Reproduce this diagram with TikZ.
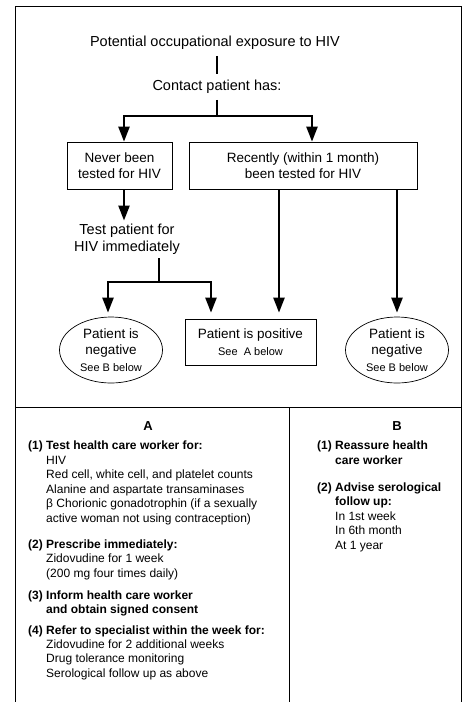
\documentclass[tikz,border=0pt]{standalone}
\usepackage{fontspec}
\setmainfont{Liberation Sans}
\usetikzlibrary{arrows.meta,shapes.geometric}

\begin{document}
\begin{tikzpicture}[x=1pt, y=-1pt]
  \tikzstyle{plain}=[inner sep=6pt, align=center, font=\fontsize{14.5}{17}\selectfont]
  \tikzstyle{box}=[rectangle, draw, line width=0.7pt, inner sep=0pt, align=center,
                   font=\fontsize{13.5}{16}\selectfont]
  \tikzstyle{oval}=[ellipse, draw, line width=0.7pt, inner sep=0pt, align=center,
                    minimum width=103pt, minimum height=66pt, font=\fontsize{13.5}{16}\selectfont]
  \tikzstyle{link}=[line width=2.4pt]
  \tikzstyle{arrow}=[link, -{Triangle[width=11pt,length=15pt]}]
  \tikzstyle{head}=[anchor=base, inner sep=0pt, font=\fontsize{13}{15}\selectfont\bfseries]
  \tikzstyle{item}=[anchor=base west, inner sep=0pt, font=\fontsize{12}{14}\selectfont\bfseries]
  \tikzstyle{sub}=[anchor=base west, inner sep=0pt, font=\fontsize{12}{14}\selectfont]

  \useasboundingbox (0,0) rectangle (466,702);

  % Frame
  \draw[line width=0.9pt] (15,702) -- (15,6) -- (461,6) -- (461,702);
  \draw[line width=0.9pt] (15,407) -- (461,407);
  \draw[line width=0.9pt] (289,407) -- (289,702);

  % Flow chart
  \node[plain] (exposure) at (215,43) {Potential occupational exposure to HIV};
  \node[plain] (contact) at (217,87) {Contact patient has:};
  \coordinate (split1) at (217,116);
  \node[box, minimum width=105pt, minimum height=47pt] (never) at (119.5,165.5)
    {Never been\\tested for HIV};
  \node[box, minimum width=228pt, minimum height=47pt] (recent) at (303,165.5)
    {Recently (within 1 month)\\been tested for HIV};
  \node[plain, inner sep=0pt] (test) at (127,239) {Test patient for\\HIV immediately};
  \coordinate (split2) at (159,282);
  \node[oval] (negL) at (111,350)
    {Patient is\\negative\\[1pt]{\fontsize{11}{13}\selectfont See B below}};
  \node[box, minimum width=131pt, minimum height=46pt] (pos) at (250.5,342)
    {Patient is positive\\[1pt]{\fontsize{11}{13}\selectfont See\ \ A below}};
  \node[oval] (negR) at (397,350)
    {Patient is\\negative\\[1pt]{\fontsize{11}{13}\selectfont See B below}};

  % Connectors
  \draw[link] (exposure.south -| contact.north) -- (contact.north);
  \draw[link] (contact.south) -- (split1);
  \draw[arrow] (split1) -| ([xshift=4.5pt]never.north);
  \draw[arrow] (split1) -| ([xshift=9pt]recent.north);
  \draw[arrow] ([xshift=4.5pt]never.south) -- ([xshift=-3pt,yshift=3pt]test.north);
  \draw[link] ([yshift=-4pt]test.south -| split2) -- (split2);
  \draw[arrow] (split2) -| ([xshift=-3pt,yshift=4pt]negL.north);
  \draw[arrow] (split2) -| ([xshift=-39.5pt,yshift=6pt]pos.north);
  \draw[arrow] ([xshift=-24pt]recent.south) -- ([xshift=-24pt,yshift=6pt]recent.south |- pos.north);
  \draw[arrow] ([xshift=94pt]recent.south) -- ([yshift=4pt]negR.north);

  % Column A
  \node[head] (headA) at (148,430) {A};
  \node[item] (a1) at (28,449) {(1) Test health care worker for:};
  \foreach \t [count=\i] in {HIV, {Red cell, white cell, and platelet counts},
      Alanine and aspartate transaminases,
      {β Chorionic gonadotrophin (if a sexually},
      {active woman not using contraception)}}
    \node[sub, name=a1-\i] at (46,{449.5+14.5*\i}) {\t};
  \node[item] (a2) at (28,548) {(2) Prescribe immediately:};
  \foreach \t [count=\i] in {Zidovudine for 1 week, {(200 mg four times daily)}}
    \node[sub, name=a2-\i] at (46,{548+14.5*\i}) {\t};
  \node[item] (a3) at (28,599) {(3) Inform health care worker};
  \node[item] (a3-1) at (46,613.5) {and obtain signed consent};
  \node[item] (a4) at (28,634) {(4) Refer to specialist within the week for:};
  \foreach \t [count=\i] in {Zidovudine for 2 additional weeks,
      Drug tolerance monitoring, Serological follow up as above}
    \node[sub, name=a4-\i] at (46,{634+14.4*\i}) {\t};

  % Column B
  \node[head] (headB) at (397,430) {B};
  \node[item] (b1) at (317,449) {(1) Reassure health};
  \node[item] (b1-1) at (335,464) {care worker};
  \node[item] (b2) at (317,491) {(2) Advise serological};
  \node[item] (b2-1) at (335,505.5) {follow up:};
  \foreach \t [count=\i] in {In 1st week, In 6th month, At 1 year}
    \node[sub, name=b2-\i] at (335,{505.5+14.5*\i}) {\t};
\end{tikzpicture}
\end{document}
